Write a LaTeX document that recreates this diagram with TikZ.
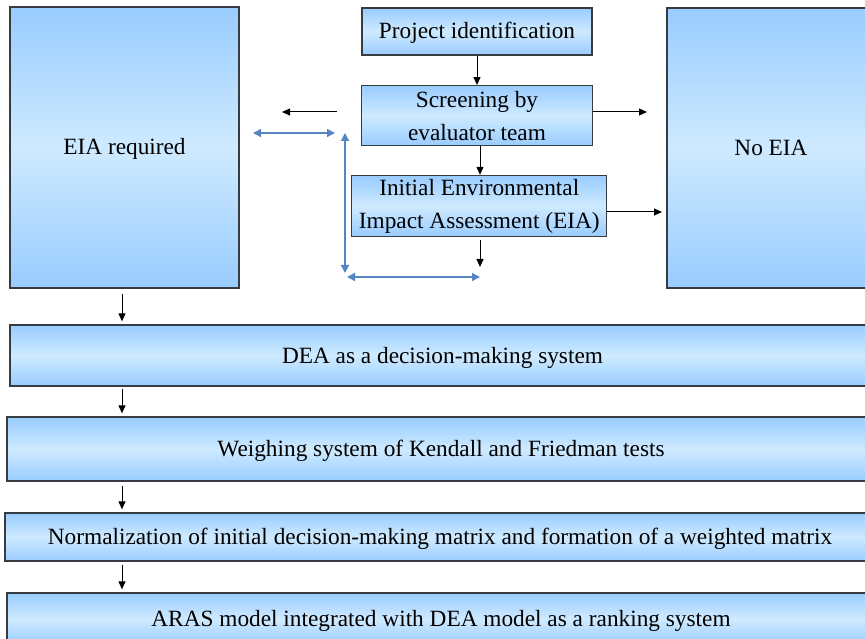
\documentclass[tikz,border=0pt]{standalone}
\usepackage{fontspec}
\setmainfont{Liberation Serif}
\usetikzlibrary{positioning, arrows.meta}
\definecolor{boxedge}{RGB}{55,60,66}
\definecolor{boxdark}{RGB}{153,204,255}
\definecolor{boxlight}{RGB}{206,234,255}
\definecolor{linkblue}{RGB}{84,134,196}
\tikzstyle{stage}=[rectangle, draw=boxedge, line width=1.3pt, top color=boxdark, bottom color=boxdark, middle color=boxlight, inner sep=0pt, align=center, font=\fontsize{23.3}{33}\selectfont]
\tikzstyle{oneline}=[text height=19pt, text depth=4pt]
\tikzstyle{flow}=[-{Triangle[length=8pt,width=7pt]}, line width=1pt, black]
\tikzstyle{link}=[{Triangle[length=8pt,width=8pt]}-{Triangle[length=8pt,width=8pt]}, line width=1.3pt, linkblue]

\begin{document}
\begin{tikzpicture}[x=1pt, y=-1pt]
            %pixel grid of the original figure, y grows downwards
            \useasboundingbox (0,0) rectangle (865,639);
            \clip (0,0) rectangle (865,639);
            \node[stage, oneline, minimum width=229, minimum height=281](eia) at (124.5,147.5){EIA required};
            \node[stage, oneline, minimum width=230, minimum height=47](proj) at (477,31.5){Project identification};
            \node[stage, minimum width=231, minimum height=60](screen) at (477,115.7){Screening by\\evaluator team};
            \node[stage, minimum width=255, minimum height=61](iea) at (479.3,206){Initial Environmental\\Impact Assessment (EIA)};
            \node[stage, oneline, minimum width=208, minimum height=280](noeia) at (771,148){No EIA};
            \node[stage, oneline, minimum width=865, minimum height=61](dea) at (442.5,355.5){DEA as a decision-making system};
            \node[stage, oneline, minimum width=868, minimum height=64](weigh) at (441,449){Weighing system of Kendall and Friedman tests};
            \node[stage, oneline, minimum width=870, minimum height=48](norm) at (440,537){Normalization of initial decision-making matrix and formation of a weighted matrix};
            \node[stage, oneline, minimum width=868, minimum height=52](aras) at (441,619){ARAS model integrated with DEA model as a ranking system};
            %free ends
            \coordinate (col) at (122,0);
            \coordinate (back-s) at (337,112);
            \coordinate (back-e) at (282,112);
            \coordinate (out-e) at (647,112);
            \coordinate (iea-out) at (662,212);
            \coordinate (down-s) at (480,240);
            \coordinate (down-e) at (480,267);
            \coordinate (ret-a) at (253,133);
            \coordinate (ret-b) at (335,133);
            \coordinate (up-a) at (345,133);
            \coordinate (up-b) at (345,273);
            \coordinate (bot-a) at (347,277);
            \coordinate (bot-b) at (480,277);
            %black flow
            \draw[flow] (proj) -- (screen);
            \draw[flow] (back-s) -- (back-e);
            \draw[flow] (screen.east |- out-e) -- (out-e);
            \draw[flow] ([xshift=3]screen.south) -- ([xshift=3]screen.south |- iea.north);
            \draw[flow] (iea.east |- iea-out) -- (iea-out);
            \draw[flow] (down-s) -- (down-e);
            \draw[flow, shorten <=5pt, shorten >=3pt] (eia.south -| col) -- (dea.north -| col);
            \draw[flow, shorten <=2pt, shorten >=3pt] (dea.south -| col) -- (weigh.north -| col);
            \draw[flow, shorten <=4pt, shorten >=3pt] (weigh.south -| col) -- (norm.north -| col);
            \draw[flow, shorten <=3pt, shorten >=3pt] (norm.south -| col) -- (aras.north -| col);
            %blue feedback
            \draw[link] (ret-a) -- (ret-b);
            \draw[link] (up-a) -- (up-b);
            \draw[link] (bot-a) -- (bot-b);
        \end{tikzpicture}
\end{document}
